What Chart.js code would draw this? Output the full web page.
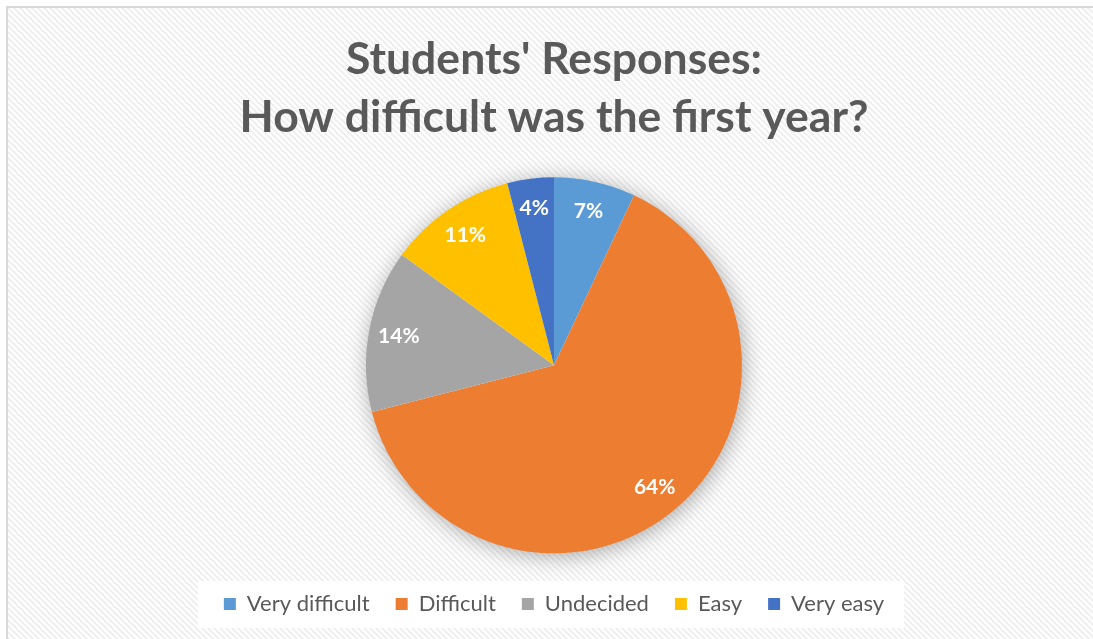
<!DOCTYPE html>
<html>
<head>
<meta charset="utf-8">
<script src="https://cdn.jsdelivr.net/npm/chart.js@4.4.0/dist/chart.umd.min.js"></script>
<style>
  html, body { margin: 0; padding: 0; background: #fff; }
  #wrap { width: 1093px; height: 639px; position: relative; }
</style>
</head>
<body>
<div id="wrap"><canvas id="pieChart" width="1093" height="639"></canvas></div>
<script>
// === DATA ===
const categories = ["Very difficult", "Difficult", "Undecided", "Easy", "Very easy"];
const percents = [7, 64, 14, 11, 4];
const sliceColors = ["#5B9BD5", "#ED7D31", "#A5A5A5", "#FFC000", "#4472C4"];
const titleLines = ["Students' Responses:", "How difficult was the first year?"];

// hatched background like the office chart area
function makeHatch(ctx) {
  const c = document.createElement("canvas");
  c.width = 6; c.height = 6;
  const p = c.getContext("2d");
  p.fillStyle = "#ffffff";
  p.fillRect(0, 0, 6, 6);
  p.strokeStyle = "#efefef";
  p.lineWidth = 2;
  p.beginPath();
  p.moveTo(-1, -1); p.lineTo(7, 7);
  p.moveTo(-4, 2); p.lineTo(4, 10);
  p.moveTo(2, -4); p.lineTo(10, 4);
  p.stroke();
  return ctx.createPattern(c, "repeat");
}

const backgroundPlugin = {
  id: "bgHatch",
  beforeDraw(chart) {
    const ctx = chart.ctx;
    ctx.save();
    ctx.fillStyle = "#ffffff";
    ctx.fillRect(0, 0, chart.width, chart.height);
    ctx.fillStyle = makeHatch(ctx);
    ctx.fillRect(7, 7, chart.width, chart.height);
    ctx.strokeStyle = "#d9d9d9";
    ctx.lineWidth = 2;
    ctx.beginPath();
    ctx.moveTo(7, chart.height + 2);
    ctx.lineTo(7, 7);
    ctx.lineTo(chart.width + 2, 7);
    ctx.stroke();

    // white box behind the legend items only
    const lg = chart.legend;
    if (lg && lg.legendHitBoxes && lg.legendHitBoxes.length) {
      const boxes = lg.legendHitBoxes;
      const first = boxes[0];
      const last = boxes[boxes.length - 1];
      const cy = first.top + first.height / 2;
      ctx.fillStyle = "#ffffff";
      ctx.fillRect(first.left - 26, cy - 23, (last.left + last.width + 20) - (first.left - 26), 47);
    }
    ctx.restore();
  }
};

// soft shadow under the pie
const shadowPlugin = {
  id: "pieShadow",
  beforeDatasetsDraw(chart) {
    const arc = chart.getDatasetMeta(0).data[0];
    if (!arc) return;
    const ctx = chart.ctx;
    ctx.save();
    ctx.shadowColor = "rgba(0,0,0,0.35)";
    ctx.shadowBlur = 22;
    ctx.shadowOffsetX = 2;
    ctx.shadowOffsetY = 3;
    ctx.fillStyle = "#ffffff";
    ctx.beginPath();
    ctx.arc(arc.x, arc.y, arc.outerRadius - 1, 0, Math.PI * 2);
    ctx.fill();
    ctx.restore();
  }
};

// percentage labels inside slices
const labelPlugin = {
  id: "sliceLabels",
  afterDatasetsDraw(chart) {
    const ctx = chart.ctx;
    const meta = chart.getDatasetMeta(0);
    ctx.save();
    ctx.fillStyle = "#ffffff";
    ctx.font = "bold 21px Lato";
    ctx.textAlign = "center";
    ctx.textBaseline = "middle";
    meta.data.forEach((arc, i) => {
      const mid = (arc.startAngle + arc.endAngle) / 2;
      const r = arc.outerRadius * 0.84;
      const x = arc.x + Math.cos(mid) * r;
      const y = arc.y + Math.sin(mid) * r;
      ctx.fillText(percents[i] + "%", x, y);
    });
    ctx.restore();
  }
};

const ctx = document.getElementById("pieChart").getContext("2d");
const chart = new Chart(ctx, {
  type: "pie",
  data: {
    labels: categories,
    datasets: [{
      data: percents,
      backgroundColor: sliceColors,
      borderWidth: 0,
      radius: 188
    }]
  },
  options: {
    responsive: false,
    animation: false,
    layout: { padding: { left: 15, right: 0, top: 23, bottom: 14 } },
    plugins: {
      title: {
        display: true,
        text: titleLines,
        color: "#595959",
        font: { family: "Lato", size: 44.5, weight: "bold", lineHeight: 1.3 },
        padding: { top: 8, bottom: 17 }
      },
      legend: {
        position: "bottom",
        labels: {
          color: "#595959",
          font: { family: "Lato", size: 22 },
          boxWidth: 12,
          boxHeight: 12,
          padding: 26
        }
      },
      tooltip: { enabled: false }
    }
  },
  plugins: [backgroundPlugin, shadowPlugin, labelPlugin]
});
</script>
</body>
</html>
